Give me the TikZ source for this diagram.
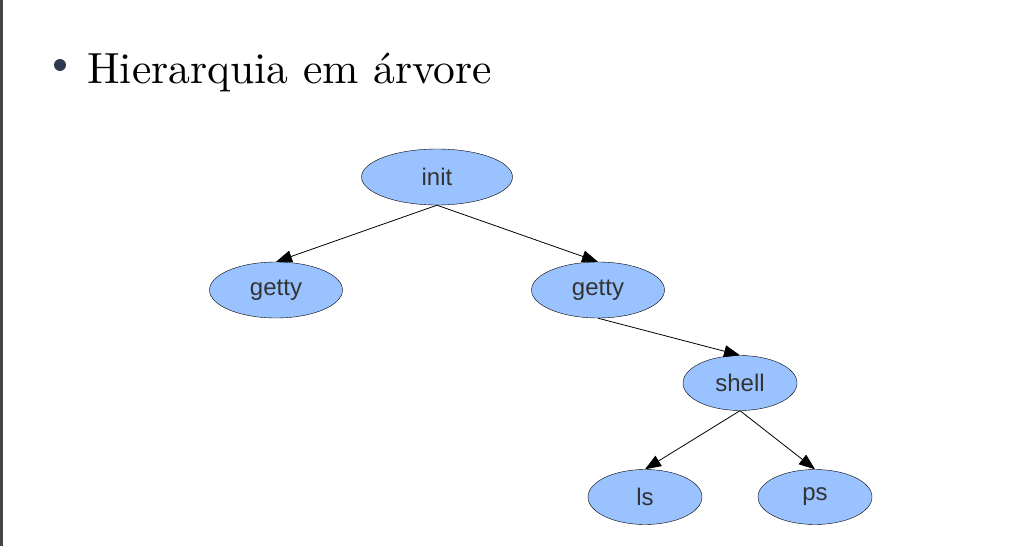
\documentclass[tikz,border=0pt]{standalone}
\usepackage{fontspec}
\newfontfamily\labelfont{Liberation Sans}
\newfontfamily\titlefont{lmroman10-regular}[Extension=.otf]
\usetikzlibrary{shapes.geometric, arrows.meta, positioning}
\definecolor{nodeblue}{RGB}{153,194,255}
\definecolor{labelgray}{RGB}{51,51,51}
\definecolor{bulletgray}{RGB}{46,56,78}
\definecolor{bargray}{RGB}{70,70,70}
\tikzset{
	proc/.style={
		ellipse,
		draw=black,
		fill=nodeblue,
		inner sep=0pt,
		minimum width=114pt,
		minimum height=55pt,
		text=labelgray,
		font=\labelfont\fontsize{24}{27}\selectfont
	},
	arrow/.style={
		-{Triangle[length=16pt,width=12pt]},
		line width=0.8pt
	}
}
\begin{document}
\begin{tikzpicture}[x=1pt, y=1pt, node distance=1pt, on grid]

		\useasboundingbox (0,0) rectangle (1036,-546);
		\fill[bargray] (0,0) rectangle (3,-546);

		% title
		\node (bullet) [circle, fill=bulletgray, inner sep=0pt, minimum size=12pt] at (60,-65) {};
		\node (title) [anchor=base west, inner sep=0pt, font=\titlefont\fontsize{43.6}{50}\selectfont] at (87,-83) {Hierarquia em árvore};

		% nodes
		\node (init)    [proc, minimum width=151pt, minimum height=56pt] at (437,-177) {init};
		\node (gettyl)  [proc, minimum width=133pt, minimum height=56pt, below left=113pt and 161pt of init]   {getty};
		\node (gettyr)  [proc, minimum width=133pt, minimum height=56pt, below right=113pt and 161pt of init]  {getty};
		\node (shell)   [proc, below right=93pt and 142pt of gettyr]  {shell};
		\node (ls)      [proc, below left=114pt and 95pt of shell]    {ls};
		\node (ps)      [proc, below right=114pt and 75pt of shell]   {ps};

		% edges
		\draw [arrow] (init.south)   -- (gettyl.north);
		\draw [arrow] (init.south)   -- (gettyr.north);
		\draw [arrow] (gettyr.south) -- (shell.north);
		\draw [arrow] (shell.south)  -- (ls.north);
		\draw [arrow] (shell.south)  -- (ps.north);

	\end{tikzpicture}
\end{document}
